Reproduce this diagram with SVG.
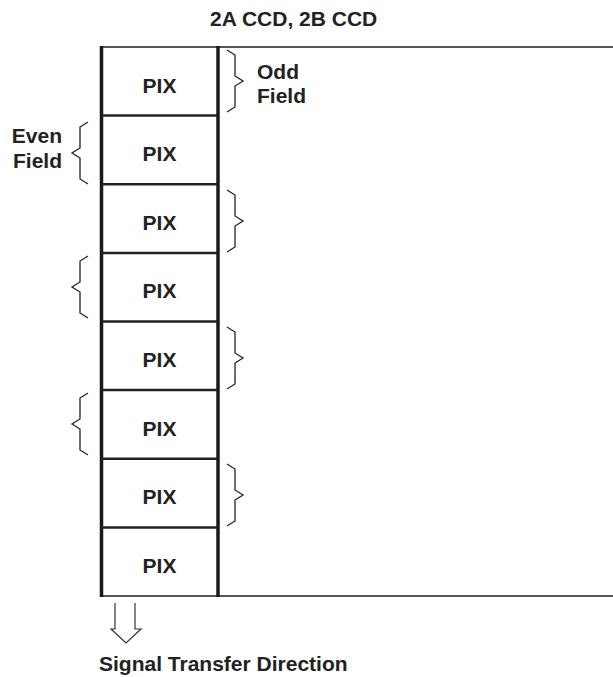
<svg xmlns="http://www.w3.org/2000/svg" width="613" height="677" viewBox="0 0 613 677">
<style>
text{font-family:"Liberation Sans",Arial,sans-serif;font-weight:bold;font-size:21px;fill:#222}
.pix{text-anchor:middle}
.end{text-anchor:end}
.brace{fill:none;stroke:#222;stroke-width:1.3;stroke-linejoin:miter}
.div{stroke:#222;stroke-width:2.5}
.hl{stroke:#555;stroke-width:2}
.thick{stroke:#1a1a1a;stroke-width:3.5}
</style>
<rect width="613" height="677" fill="#fff"/>
<text id="title" x="210" y="26">2A CCD, 2B CCD</text>
<g id="frame">
<line class="hl" x1="100" y1="47" x2="613" y2="47"/>
<line class="hl" x1="100" y1="596" x2="613" y2="596"/>
<line class="thick" x1="101.5" y1="46" x2="101.5" y2="597"/>
<line class="thick" x1="218" y1="46" x2="218" y2="597"/>
</g>
<g id="cells">
<g id="pix1"><text class="pix" x="159.5" y="92.5">PIX</text></g>
<line class="div" x1="102" y1="115.6" x2="217" y2="115.6"/>
<g id="pix2"><text class="pix" x="159.5" y="161.1">PIX</text></g>
<line class="div" x1="102" y1="184.3" x2="217" y2="184.3"/>
<g id="pix3"><text class="pix" x="159.5" y="229.8">PIX</text></g>
<line class="div" x1="102" y1="252.9" x2="217" y2="252.9"/>
<g id="pix4"><text class="pix" x="159.5" y="298.4">PIX</text></g>
<line class="div" x1="102" y1="321.5" x2="217" y2="321.5"/>
<g id="pix5"><text class="pix" x="159.5" y="367">PIX</text></g>
<line class="div" x1="102" y1="390.1" x2="217" y2="390.1"/>
<g id="pix6"><text class="pix" x="159.5" y="435.6">PIX</text></g>
<line class="div" x1="102" y1="458.8" x2="217" y2="458.8"/>
<g id="pix7"><text class="pix" x="159.5" y="504.3">PIX</text></g>
<line class="div" x1="102" y1="527.4" x2="217" y2="527.4"/>
<g id="pix8"><text class="pix" x="159.5" y="572.9">PIX</text></g>
</g>
<g id="odd-braces">
<path class="brace" d="M227,50 L235,55 L235,76 L243,81 L235,86 L235,107 L227,112"/>
<path class="brace" d="M227,190 L235,195 L235,216 L243,221 L235,226 L235,247 L227,252"/>
<path class="brace" d="M227,327 L235,332 L235,353 L243,358 L235,363 L235,384 L227,389"/>
<path class="brace" d="M227,464 L235,469 L235,490 L243,495 L235,500 L235,521 L227,526"/>
</g>
<g id="even-braces">
<path class="brace" d="M88,122 L80,127 L80,148 L72,153 L80,158 L80,179 L88,184"/>
<path class="brace" d="M88,256 L80,261 L80,282 L72,287 L80,292 L80,313 L88,318"/>
<path class="brace" d="M88,393 L80,398 L80,419 L72,424 L80,429 L80,450 L88,455"/>
</g>
<g id="labels">
<text x="257" y="79">Odd</text>
<text x="257" y="103">Field</text>
<text class="end" x="62" y="143">Even</text>
<text class="end" x="62" y="168">Field</text>
</g>
<g id="connectors">
<path d="M115,603 V629 H111 L126,643 L141,629 H135 V603" fill="none" stroke="#333" stroke-width="1.2"/>
</g>
<text id="direction" x="99" y="671">Signal Transfer Direction</text>
</svg>
